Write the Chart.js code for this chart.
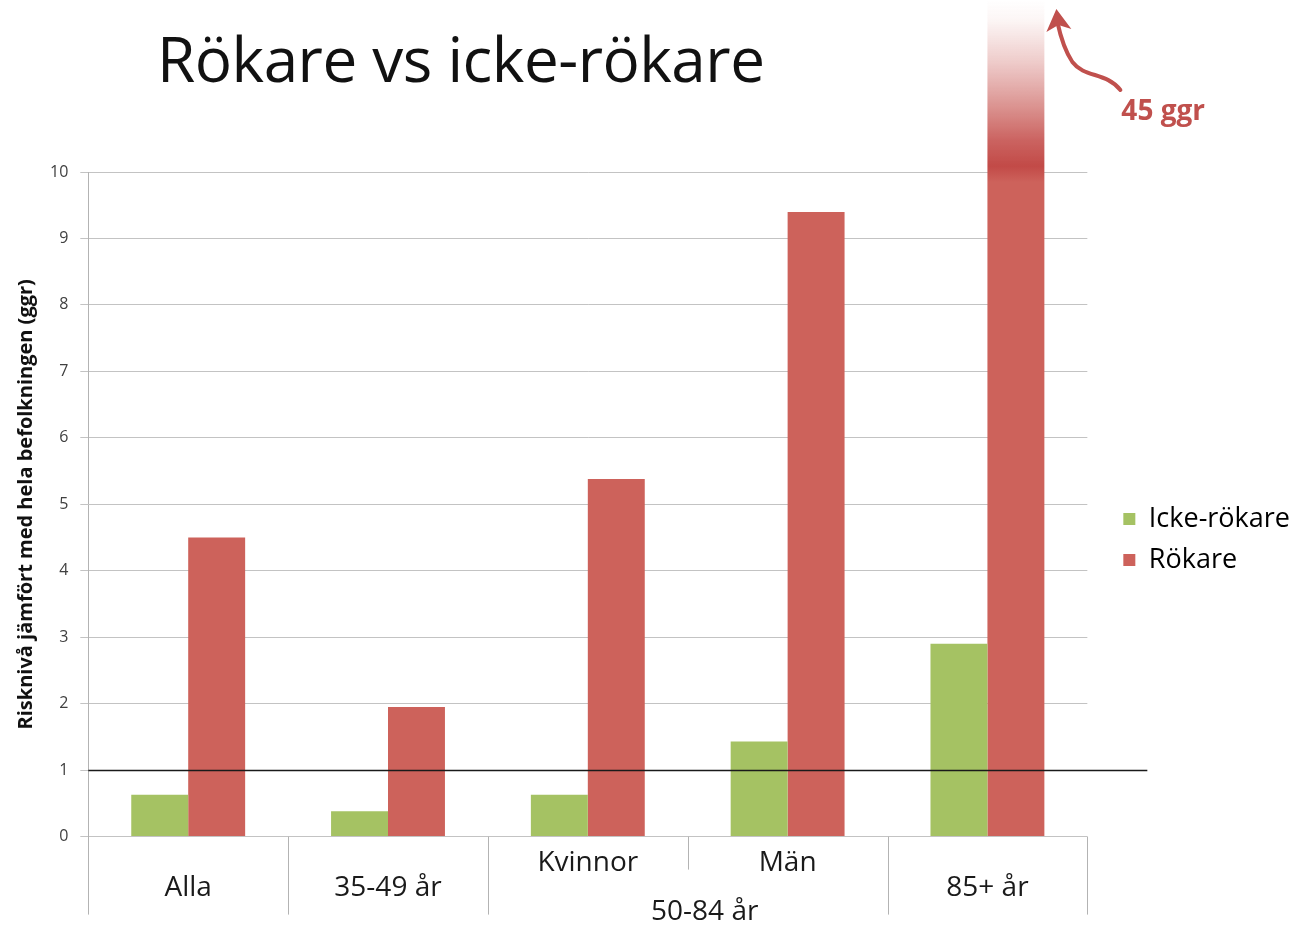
<!DOCTYPE html>
<html>
<head>
<meta charset="utf-8">
<script src="https://cdn.jsdelivr.net/npm/chart.js@4.4.1/dist/chart.umd.min.js"></script>
<style>
  html, body { margin: 0; padding: 0; background: #fff; }
  #wrap { position: relative; width: 1306px; height: 932px; }
  #title {
    position: absolute; left: 157px; top: 21px; margin: 0;
    font-family: "Open Sans", sans-serif; font-weight: 400; font-size: 62px;
    line-height: 1.2; color: #111; letter-spacing: -0.5px;
  }
  canvas { position: absolute; left: 0; top: 0; }
</style>
</head>
<body>
<div id="wrap">
  <h1 id="title">Rökare vs icke-rökare</h1>
  <canvas id="chart" width="1306" height="932"></canvas>
</div>
<script>
// data
const categories = ['Alla', '35-49 år', 'Kvinnor', 'Män', '85+ år'];
const groupLabel = '50-84 år';
const ickeRokare = [0.63, 0.38, 0.63, 1.43, 2.90];
const rokare = [4.50, 1.95, 5.38, 9.40, 45];
const yTicks = [0, 1, 2, 3, 4, 5, 6, 7, 8, 9, 10];
const referenceLevel = 1;

const GREEN = '#a5c263';
const RED = '#cd625b';
const ARROW_RED = '#c0504d';

// labels: Kvinnor & Män sit on first line, the rest on the second
const xLabels = categories.map(function (c, i) {
    return (i === 2 || i === 3) ? [c, ''] : ['', c];
});

document.addEventListener('DOMContentLoaded', function () {
    const ctx = document.getElementById('chart').getContext('2d');

    const redFill = function (context) {
        const chart = context.chart;
        const area = chart.chartArea;
        if (!area || context.dataIndex !== 4) return RED;
        // bar goes off the scale: fade it out above the top of the plot
        const g = chart.ctx.createLinearGradient(0, 0, 0, area.bottom);
        const at = function (px) { return Math.min(1, px / area.bottom); };
        g.addColorStop(0, 'rgba(205,98,91,0)');
        g.addColorStop(at(20), 'rgba(205,98,91,0.06)');
        g.addColorStop(at(60), 'rgba(202,92,88,0.3)');
        g.addColorStop(at(100), 'rgba(198,84,80,0.58)');
        g.addColorStop(at(140), 'rgba(196,78,75,0.88)');
        g.addColorStop(at(area.top - 6), 'rgba(194,74,71,1)');
        g.addColorStop(at(area.top + 10), RED);
        g.addColorStop(1, RED);
        return g;
    };

    const extras = {
        id: 'extras',
        afterDatasetsDraw: function (chart) {
            const c = chart.ctx;
            const area = chart.chartArea;
            const y = chart.scales.y;

            // reference line at 1, runs past the plot
            const y1 = Math.round(y.getPixelForValue(referenceLevel)) + 0.5;
            c.save();
            c.strokeStyle = '#1a1a1a';
            c.lineWidth = 1.5;
            c.beginPath();
            c.moveTo(area.left, y1);
            c.lineTo(area.right + 60, y1);
            c.stroke();
            c.restore();
        },
        afterDraw: function (chart) {
            const c = chart.ctx;
            const area = chart.chartArea;
            const step = (area.right - area.left) / categories.length;

            // category separators under the axis
            c.save();
            c.strokeStyle = '#b3b3b3';
            c.lineWidth = 1;
            for (let i = 0; i <= categories.length; i++) {
                const px = Math.round(area.left + i * step) + 0.5;
                const len = (i === 3) ? 33 : 78;
                c.beginPath();
                c.moveTo(px, area.bottom);
                c.lineTo(px, area.bottom + len);
                c.stroke();
            }

            // group label for Kvinnor + Män
            c.fillStyle = '#1a1a1a';
            c.font = '28px "Open Sans"';
            c.textAlign = 'center';
            c.textBaseline = 'middle';
            c.fillText(groupLabel, area.left + 3 * step + 17, area.bottom + 75);

            // "45 ggr" annotation next to the off-scale bar
            const bar = chart.getDatasetMeta(1).data[4];
            const bx = bar.x + bar.width / 2;
            c.strokeStyle = ARROW_RED;
            c.fillStyle = ARROW_RED;
            c.lineWidth = 4;
            c.lineCap = 'round';
            const tipX = bx + 12, tipY = 12;
            c.beginPath();
            c.moveTo(bx + 76, 90);
            c.bezierCurveTo(bx + 62, 72, bx + 40, 78, bx + 28, 62);
            c.bezierCurveTo(bx + 20, 50, bx + 16, 36, tipX + 1, tipY + 10);
            c.stroke();
            c.beginPath();
            c.moveTo(tipX, tipY - 3);
            c.lineTo(tipX - 10, tipY + 20);
            c.lineTo(tipX + 2, tipY + 13);
            c.lineTo(tipX + 15, tipY + 17);
            c.closePath();
            c.fill();

            c.font = 'bold 28px "Open Sans"';
            c.textAlign = 'left';
            c.textBaseline = 'alphabetic';
            c.fillText('45 ggr', bx + 77, 120);
            c.restore();
        }
    };

    new Chart(ctx, {
        type: 'bar',
        data: {
            labels: xLabels,
            datasets: [
                {
                    label: 'Icke-rökare',
                    data: ickeRokare,
                    backgroundColor: GREEN,
                    borderWidth: 0
                },
                {
                    label: 'Rökare',
                    data: rokare,
                    backgroundColor: redFill,
                    borderWidth: 0,
                    clip: false
                }
            ]
        },
        options: {
            responsive: false,
            animation: false,
            layout: { padding: { left: 14, right: 6, top: 172, bottom: 25 } },
            datasets: { bar: { categoryPercentage: 0.57, barPercentage: 1 } },
            plugins: {
                tooltip: { enabled: false },
                title: { display: false },
                legend: {
                    position: 'right',
                    labels: {
                        boxWidth: 12,
                        boxHeight: 12,
                        padding: 14,
                        color: '#1a1a1a',
                        font: { family: 'Open Sans', size: 27 },
                        generateLabels: function (chart) {
                            return chart.data.datasets.map(function (ds, i) {
                                return {
                                    text: ds.label,
                                    fillStyle: i === 0 ? GREEN : RED,
                                    strokeStyle: i === 0 ? GREEN : RED,
                                    lineWidth: 0,
                                    datasetIndex: i
                                };
                            });
                        }
                    }
                }
            },
            scales: {
                x: {
                    grid: { display: false },
                    border: { display: false },
                    ticks: {
                        color: '#1a1a1a',
                        padding: 6,
                        font: { family: 'Open Sans', size: 28, lineHeight: 0.9 }
                    }
                },
                y: {
                    min: 0,
                    max: 10,
                    afterBuildTicks: function (axis) {
                        axis.ticks = yTicks.map(function (v) { return { value: v }; });
                    },
                    grid: {
                        color: '#c3c3c3',
                        tickLength: 8,
                        lineWidth: 1
                    },
                    border: { color: '#b3b3b3' },
                    ticks: {
                        color: '#404040',
                        padding: 12,
                        font: { family: 'Open Sans', size: 16 }
                    },
                    title: {
                        display: true,
                        text: 'Risknivå jämfört med hela befolkningen (ggr)',
                        color: '#111',
                        padding: { top: 0, bottom: 0 },
                        font: { family: 'Open Sans', size: 20, weight: 'bold' }
                    }
                },
                // empty axis: keeps a gap between the plot and the legend
                gap: {
                    position: 'right',
                    display: true,
                    grid: { display: false },
                    border: { display: false },
                    ticks: { display: false },
                    afterFit: function (axis) { axis.width = 22; }
                }
            }
        },
        plugins: [extras]
    });
});
</script>
</body>
</html>
